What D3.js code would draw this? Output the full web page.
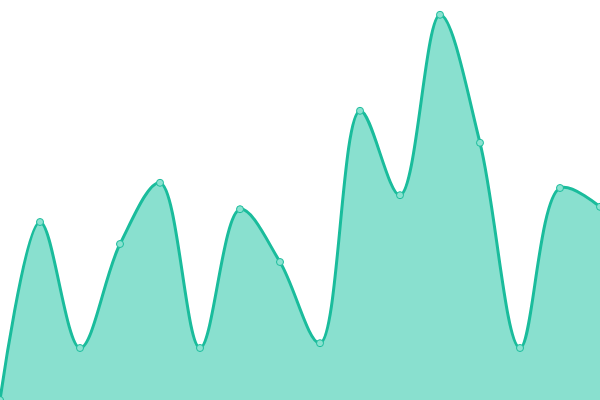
<!DOCTYPE html>
<html>
<head>
<meta charset="utf-8">
<script src="https://cdn.jsdelivr.net/npm/d3@7"></script>
<style>
    html, body { margin: 0; padding: 0; background: #fff; overflow: hidden; }
</style>
</head>
<body>
<div id="chart"></div>
<script>
// data (0..100 scale)
const steps = d3.range(16);
const values = [0, 44.5, 13, 39, 54.3, 13, 47.7, 34.5, 14.2, 72.3, 51.2, 96.3, 64.3, 13, 53, 48.3];

const width = 600, height = 400;

let svg = d3.select("#chart").append("svg")
    .attr("width", width)
    .attr("height", height);

let x = d3.scaleLinear().domain([0, steps.length - 1]).range([0, width]);
let y = d3.scaleLinear().domain([0, 100]).range([height, 0]);

let data = steps.map((s, i) => ({step: s, value: values[i]}));

let area = d3.area()
    .x(d => x(d.step))
    .y0(y(0))
    .y1(d => y(d.value))
    .curve(d3.curveCatmullRom);

let line = d3.line()
    .x(d => x(d.step))
    .y(d => y(d.value))
    .curve(d3.curveCatmullRom);

svg.append("path")
    .datum(data)
    .attr("d", area)
    .attr("fill", "#89e0cf");

svg.append("path")
    .datum(data)
    .attr("d", line)
    .attr("fill", "none")
    .attr("stroke", "#1abc9c")
    .attr("stroke-width", 3);

svg.selectAll(".dot")
    .data(data)
    .enter().append("circle")
    .attr("class", "dot")
    .attr("cx", d => x(d.step))
    .attr("cy", d => y(d.value))
    .attr("r", 3.5)
    .attr("fill", "#8ae2d0")
    .attr("stroke", "#1abc9c")
    .attr("stroke-width", 1);
</script>
</body>
</html>
